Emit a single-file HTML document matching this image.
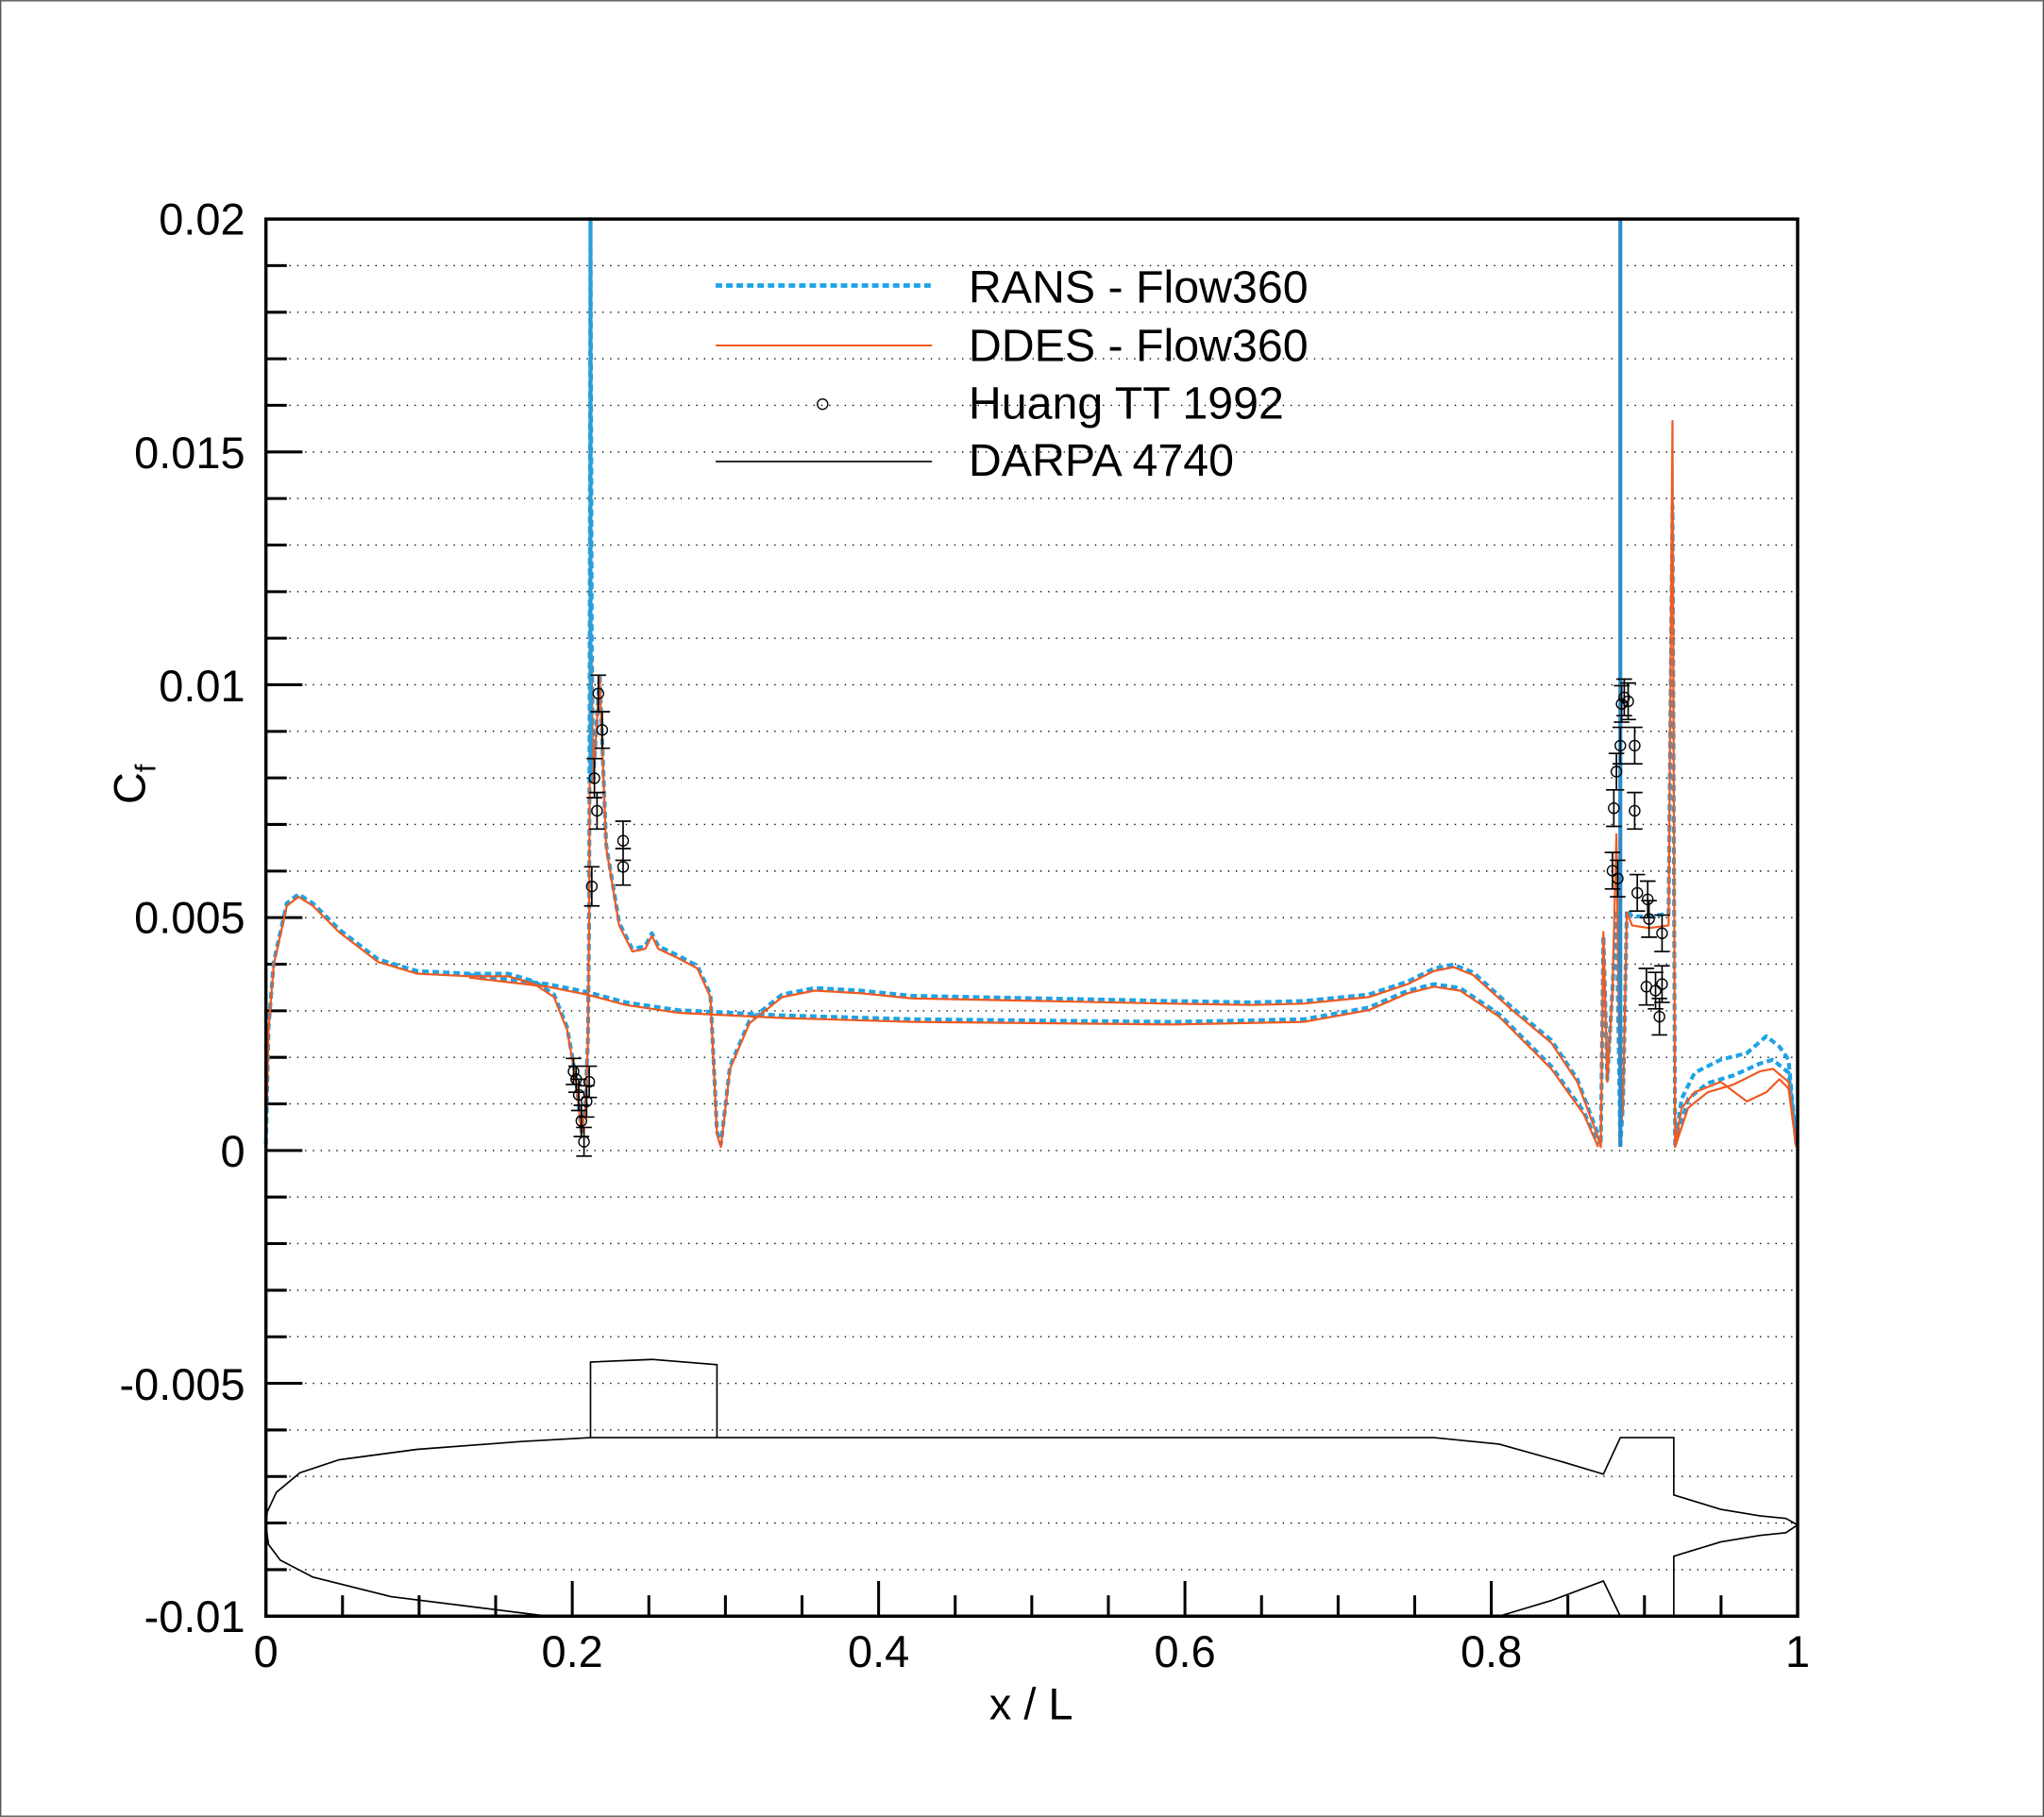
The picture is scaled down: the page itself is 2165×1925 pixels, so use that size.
<!DOCTYPE html>
<html><head><meta charset="utf-8"><style>html,body{margin:0;padding:0;background:#fff}svg{display:block}</style></head>
<body>
<svg width="2165" height="1925" viewBox="0 0 1568 1394" xmlns="http://www.w3.org/2000/svg" font-family="Liberation Sans, sans-serif">
<rect x="0.5" y="0.5" width="1567" height="1393" fill="#fff" stroke="#555" stroke-width="1"/>
<g stroke="#000" stroke-width="1" stroke-dasharray="1,5">
<line x1="222" x2="1379" y1="203.7" y2="203.7"/><line x1="222" x2="1379" y1="239.5" y2="239.5"/><line x1="222" x2="1379" y1="275.2" y2="275.2"/><line x1="222" x2="1379" y1="310.9" y2="310.9"/><line x1="222" x2="1379" y1="346.7" y2="346.7"/><line x1="222" x2="1379" y1="382.4" y2="382.4"/><line x1="222" x2="1379" y1="418.1" y2="418.1"/><line x1="222" x2="1379" y1="453.9" y2="453.9"/><line x1="222" x2="1379" y1="489.6" y2="489.6"/><line x1="222" x2="1379" y1="525.3" y2="525.3"/><line x1="222" x2="1379" y1="561.1" y2="561.1"/><line x1="222" x2="1379" y1="596.8" y2="596.8"/><line x1="222" x2="1379" y1="632.5" y2="632.5"/><line x1="222" x2="1379" y1="668.3" y2="668.3"/><line x1="222" x2="1379" y1="704" y2="704"/><line x1="222" x2="1379" y1="739.7" y2="739.7"/><line x1="222" x2="1379" y1="775.5" y2="775.5"/><line x1="222" x2="1379" y1="811.2" y2="811.2"/><line x1="222" x2="1379" y1="846.9" y2="846.9"/><line x1="222" x2="1379" y1="882.7" y2="882.7"/><line x1="222" x2="1379" y1="918.4" y2="918.4"/><line x1="222" x2="1379" y1="954.1" y2="954.1"/><line x1="222" x2="1379" y1="989.9" y2="989.9"/><line x1="222" x2="1379" y1="1025.6" y2="1025.6"/><line x1="222" x2="1379" y1="1061.3" y2="1061.3"/><line x1="222" x2="1379" y1="1097.1" y2="1097.1"/><line x1="222" x2="1379" y1="1132.8" y2="1132.8"/><line x1="222" x2="1379" y1="1168.5" y2="1168.5"/><line x1="222" x2="1379" y1="1204.3" y2="1204.3"/>
</g>
<g stroke="#000" stroke-width="2.2">
<line x1="204" x2="220" y1="203.7" y2="203.7"/><line x1="204" x2="220" y1="239.5" y2="239.5"/><line x1="204" x2="220" y1="275.2" y2="275.2"/><line x1="204" x2="220" y1="310.9" y2="310.9"/><line x1="204" x2="232" y1="346.7" y2="346.7"/><line x1="204" x2="220" y1="382.4" y2="382.4"/><line x1="204" x2="220" y1="418.1" y2="418.1"/><line x1="204" x2="220" y1="453.9" y2="453.9"/><line x1="204" x2="220" y1="489.6" y2="489.6"/><line x1="204" x2="232" y1="525.3" y2="525.3"/><line x1="204" x2="220" y1="561.1" y2="561.1"/><line x1="204" x2="220" y1="596.8" y2="596.8"/><line x1="204" x2="220" y1="632.5" y2="632.5"/><line x1="204" x2="220" y1="668.3" y2="668.3"/><line x1="204" x2="232" y1="704" y2="704"/><line x1="204" x2="220" y1="739.7" y2="739.7"/><line x1="204" x2="220" y1="775.5" y2="775.5"/><line x1="204" x2="220" y1="811.2" y2="811.2"/><line x1="204" x2="220" y1="846.9" y2="846.9"/><line x1="204" x2="232" y1="882.7" y2="882.7"/><line x1="204" x2="220" y1="918.4" y2="918.4"/><line x1="204" x2="220" y1="954.1" y2="954.1"/><line x1="204" x2="220" y1="989.9" y2="989.9"/><line x1="204" x2="220" y1="1025.6" y2="1025.6"/><line x1="204" x2="232" y1="1061.3" y2="1061.3"/><line x1="204" x2="220" y1="1097.1" y2="1097.1"/><line x1="204" x2="220" y1="1132.8" y2="1132.8"/><line x1="204" x2="220" y1="1168.5" y2="1168.5"/><line x1="204" x2="220" y1="1204.3" y2="1204.3"/>
<line x1="262.75" x2="262.75" y1="1240" y2="1224"/><line x1="321.5" x2="321.5" y1="1240" y2="1224"/><line x1="380.25" x2="380.25" y1="1240" y2="1224"/><line x1="439" x2="439" y1="1240" y2="1213"/><line x1="497.75" x2="497.75" y1="1240" y2="1224"/><line x1="556.5" x2="556.5" y1="1240" y2="1224"/><line x1="615.25" x2="615.25" y1="1240" y2="1224"/><line x1="674" x2="674" y1="1240" y2="1213"/><line x1="732.75" x2="732.75" y1="1240" y2="1224"/><line x1="791.5" x2="791.5" y1="1240" y2="1224"/><line x1="850.25" x2="850.25" y1="1240" y2="1224"/><line x1="909" x2="909" y1="1240" y2="1213"/><line x1="967.75" x2="967.75" y1="1240" y2="1224"/><line x1="1026.5" x2="1026.5" y1="1240" y2="1224"/><line x1="1085.25" x2="1085.25" y1="1240" y2="1224"/><line x1="1144" x2="1144" y1="1240" y2="1213"/><line x1="1202.75" x2="1202.75" y1="1240" y2="1224"/><line x1="1261.5" x2="1261.5" y1="1240" y2="1224"/><line x1="1320.25" x2="1320.25" y1="1240" y2="1224"/>
</g>
<g fill="none" stroke="#000" stroke-width="1.2">
<path d="M453,1103 L453,1045 L500,1043 L550,1047 L550,1103"/>
<path d="M1379,1170 L1370,1165 L1350,1163 L1320,1158 L1284,1147 L1284,1103 L1243,1103 L1230,1131 L1200,1122 L1150,1108 L1100,1103 L453,1103 L400,1106 L320,1112 L260,1120 L230,1130 L212,1145 L205,1160 L204,1170 L206,1185 L215,1197 L240,1210 L300,1225 L380,1235 L420,1240"/>
<path d="M1150,1240 L1190,1228 L1230,1213 L1243,1240"/>
<path d="M1284,1240 L1284,1194 L1320,1183 L1350,1178 L1370,1176 L1379,1170"/>
</g>
<g fill="none" stroke-linejoin="round">
<path stroke="#1ea3e6" stroke-width="3" stroke-dasharray="5,3" transform="translate(0,-2)" d="M204,880 L206,790 L210,740 L220,695 L229,688 L240,695 L260,715 L290,738 L320,747 L360,749 L390,749 L410,755 L425,765 L435,790 L442,830 L446,870 L449,850 L451,800 L452,700 L453,170 L454,500 L455,600 L460,520 L465,650 L475,710 L485,730 L495,728 L500,718 L505,728 L520,735 L535,743 L545,765 L550,870 L553,880 L560,820 L575,785 L600,765 L625,760 L660,762 L700,766 L800,768 L900,770 L960,771 L1000,770 L1050,765 L1080,755 L1100,745 L1115,742 L1130,748 L1160,775 L1190,800 L1210,830 L1225,870 L1228,880 L1230,720 L1233,830 L1237,760 L1240,700 L1243,880 L1245,850 L1248,700 L1252,705 L1265,705 L1280,703 L1283,390 L1285,880 L1290,845 L1300,825 L1320,815 L1340,810 L1355,797 L1365,805 L1372,815 L1378,880"/>
<path stroke="#1ea3e6" stroke-width="3" stroke-dasharray="5,3" transform="translate(0,-2)" d="M360,750 L420,757 L450,763 L480,771 L520,777 L560,779 L600,781 L700,784 L800,785 L900,786 L1000,784 L1050,775 L1080,762 L1100,757 L1120,760 L1150,780 L1190,820 L1215,855 L1226,880 M1285,880 L1295,845 L1310,833 L1330,827 L1350,818 L1360,815 L1372,825 L1378,880"/>
<path stroke="#f05a22" stroke-width="1.6" d="M204,880 L206,790 L210,740 L220,695 L229,688 L240,695 L260,715 L290,738 L320,747 L360,749 L390,749 L410,755 L425,765 L435,790 L442,830 L446,870 L449,850 L451,800 L452,700 L453,440 L455,600 L460,520 L465,650 L475,710 L485,730 L495,728 L500,718 L505,728 L520,735 L535,743 L545,765 L550,870 L553,880 L560,820 L575,785 L600,765 L625,760 L660,762 L700,766 L800,768 L900,770 L960,771 L1000,770 L1050,765 L1080,755 L1100,745 L1115,742 L1130,748 L1160,775 L1190,800 L1210,830 L1225,870 L1228,880 L1230,715 L1233,830 L1237,760 L1240,640 L1243,870 L1245,850 L1248,700 L1252,710 L1265,712 L1280,710 L1283,323 L1285,880 L1290,850 L1300,838 L1320,830 L1340,845 L1355,838 L1365,828 L1372,835 L1378,880"/>
<path stroke="#f05a22" stroke-width="1.6" d="M360,750 L420,757 L450,763 L480,771 L520,777 L560,779 L600,781 L700,784 L800,785 L900,786 L1000,784 L1050,775 L1080,762 L1100,757 L1120,760 L1150,780 L1190,820 L1215,855 L1226,880 M1285,880 L1295,850 L1310,838 L1330,832 L1350,822 L1360,820 L1372,830 L1378,880"/>
<line x1="1243" y1="168" x2="1243" y2="880" stroke="#2a8cc8" stroke-width="3"/>
<line x1="453" y1="168" x2="453" y2="600" stroke="#2a9ed8" stroke-width="3"/>
</g>
<g fill="none" stroke="#000" stroke-width="1.2">
<path d="M440,812v20M434,812h12M434,832h12 M442,818v20M436,818h12M436,838h12 M444,828v24M438,828h12M438,852h12 M446,848v24M440,848h12M440,872h12 M448,865v22M442,865h12M442,887h12 M450,833v24M444,833h12M444,857h12 M452,818v24M446,818h12M446,842h12 M454,665v30M448,665h12M448,695h12 M456,582v30M450,582h12M450,612h12 M458,608v28M452,608h12M452,636h12 M459,518v28M453,518h12M453,546h12 M462,546v28M456,546h12M456,574h12 M478,630v30M472,630h12M472,660h12 M478,651v28M472,651h12M472,679h12"/>
<path d="M1237,654v28M1231,654h12M1231,682h12 M1238,606v28M1232,606h12M1232,634h12 M1240,578v28M1234,578h12M1234,606h12 M1243,558v28M1237,558h12M1237,586h12 M1244,526v28M1238,526h12M1238,554h12 M1246,521v28M1240,521h12M1240,549h12 M1249,524v28M1243,524h12M1243,552h12 M1254,558v28M1248,558h12M1248,586h12 M1254,608v28M1248,608h12M1248,636h12 M1256,671v28M1250,671h12M1250,699h12 M1264,676v28M1258,676h12M1258,704h12 M1265,691v28M1259,691h12M1259,719h12 M1263,743v28M1257,743h12M1257,771h12 M1270,746v28M1264,746h12M1264,774h12 M1273,766v28M1267,766h12M1267,794h12 M1275,702v28M1269,702h12M1269,730h12 M1275,741v28M1269,741h12M1269,769h12 M1241,660v28M1235,660h12M1235,688h12"/>
<g stroke-width="1">
<circle cx="440" cy="822" r="4"/><circle cx="442" cy="828" r="4"/><circle cx="444" cy="840" r="4"/><circle cx="446" cy="860" r="4"/><circle cx="448" cy="876" r="4"/><circle cx="450" cy="845" r="4"/><circle cx="452" cy="830" r="4"/><circle cx="454" cy="680" r="4"/><circle cx="456" cy="597" r="4"/><circle cx="458" cy="622" r="4"/><circle cx="459" cy="532" r="4"/><circle cx="462" cy="560" r="4"/><circle cx="478" cy="645" r="4"/><circle cx="478" cy="665" r="4"/>
<circle cx="1237" cy="668" r="4"/><circle cx="1238" cy="620" r="4"/><circle cx="1240" cy="592" r="4"/><circle cx="1243" cy="572" r="4"/><circle cx="1244" cy="540" r="4"/><circle cx="1246" cy="535" r="4"/><circle cx="1249" cy="538" r="4"/><circle cx="1254" cy="572" r="4"/><circle cx="1254" cy="622" r="4"/><circle cx="1256" cy="685" r="4"/><circle cx="1264" cy="690" r="4"/><circle cx="1265" cy="705" r="4"/><circle cx="1263" cy="757" r="4"/><circle cx="1270" cy="760" r="4"/><circle cx="1273" cy="780" r="4"/><circle cx="1275" cy="716" r="4"/><circle cx="1275" cy="755" r="4"/><circle cx="1241" cy="674" r="4"/>
</g>
</g>
<rect x="204" y="168" width="1175" height="1072" fill="none" stroke="#000" stroke-width="2.5"/>
<line x1="549" y1="219" x2="715" y2="219" stroke="#1ea3e6" stroke-width="3.5" stroke-dasharray="5,3"/>
<line x1="549" y1="265" x2="715" y2="265" stroke="#f05a22" stroke-width="1.5"/>
<circle cx="631" cy="310" r="4" fill="none" stroke="#000" stroke-width="1"/>
<line x1="549" y1="354" x2="715" y2="354" stroke="#000" stroke-width="1.2"/>
<g font-size="35" fill="#000">
<text x="743" y="232">RANS - Flow360</text>
<text x="743" y="277">DDES - Flow360</text>
<text x="743" y="321">Huang TT 1992</text>
<text x="743" y="365">DARPA 4740</text>
</g>
<g font-size="34" fill="#000" text-anchor="end">
<text x="188" y="180">0.02</text><text x="188" y="359">0.015</text><text x="188" y="538">0.01</text><text x="188" y="716">0.005</text><text x="188" y="895">0</text><text x="188" y="1074">-0.005</text><text x="188" y="1252">-0.01</text>
</g>
<g font-size="34" fill="#000" text-anchor="middle">
<text x="204" y="1279">0</text><text x="439" y="1279">0.2</text><text x="674" y="1279">0.4</text><text x="909" y="1279">0.6</text><text x="1144" y="1279">0.8</text><text x="1379" y="1279">1</text>
<text x="791" y="1319">x / L</text>
</g>
<g transform="translate(111,617) rotate(-90)" font-size="34" fill="#000"><text x="0" y="0">C<tspan font-size="22" dy="8">f</tspan></text></g>
</svg>
</body></html>
